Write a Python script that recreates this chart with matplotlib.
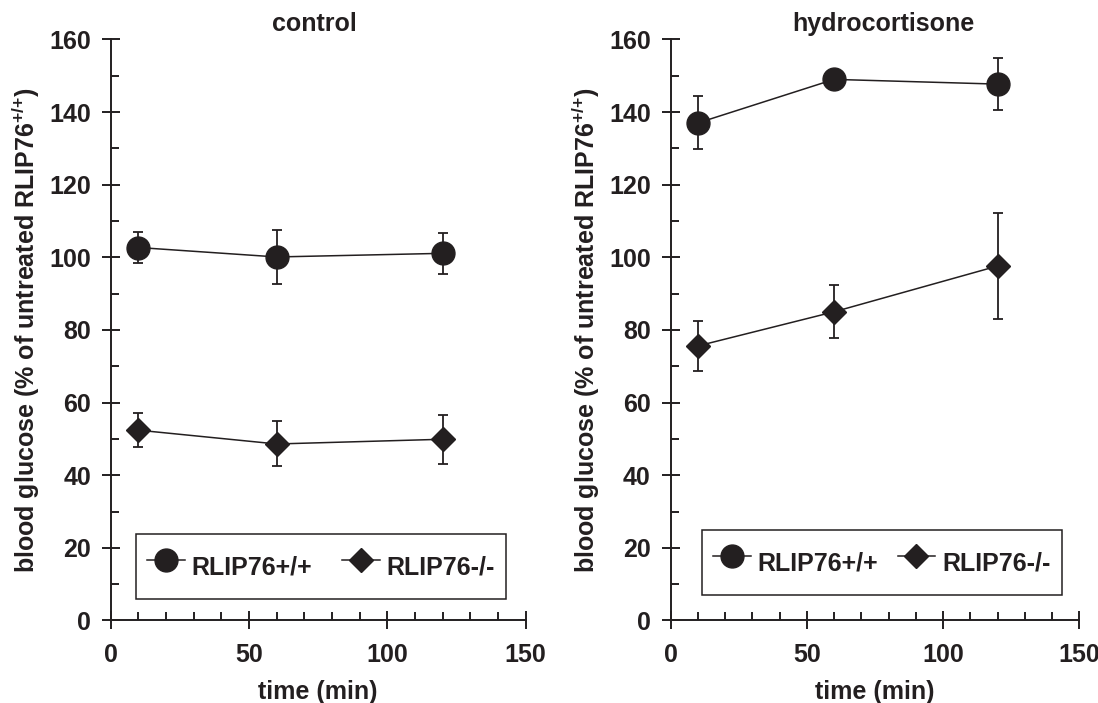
import matplotlib
matplotlib.use("Agg")
import matplotlib.pyplot as plt
from matplotlib.ticker import MultipleLocator

plt.rcParams['font.family'] = ['Liberation Sans', 'DejaVu Sans']
plt.rcParams['font.weight'] = 'bold'
plt.rcParams['mathtext.fontset'] = 'custom'
plt.rcParams['mathtext.rm'] = 'Liberation Sans:bold'
plt.rcParams['mathtext.bf'] = 'Liberation Sans:bold'
plt.rcParams['mathtext.default'] = 'bf'

# ---- data ----
time_min = [10, 60, 120]

control_wt = [102.7, 100.1, 101.1]
control_wt_err = [4.3, 7.5, 5.7]
control_ko = [52.4, 48.6, 49.9]
control_ko_err = [4.6, 6.2, 6.8]

hydro_wt = [137.0, 149.0, 147.7]
hydro_wt_err = [7.3, 1.5, 7.25]
hydro_ko = [75.6, 85.0, 97.6]
hydro_ko_err = [6.9, 7.35, 14.7]

panel_titles = ['control', 'hydrocortisone']
series_labels = ['RLIP76+/+', 'RLIP76-/-']
x_ticks = [0, 50, 100, 150]
y_ticks = [0, 20, 40, 60, 80, 100, 120, 140, 160]
x_label = 'time (min)'
y_label = 'blood glucose (% of untreated RLIP76$^{\\text{+/+}}$)'

C = '#231f20'
FS = 18

fig = plt.figure(figsize=(10.98, 7.03), dpi=100)
ax1 = fig.add_axes([0.1008, 0.1174, 0.378, 0.8265])
ax2 = fig.add_axes([0.6108, 0.1174, 0.3721, 0.8265])

panels = [
    (ax1, control_wt, control_wt_err, control_ko, control_ko_err, panel_titles[0], 0.49,
     (9.1, 5.8, 133.8, 19.4)),
    (ax2, hydro_wt, hydro_wt_err, hydro_ko, hydro_ko_err, panel_titles[1], 0.52,
     (11.5, 6.9, 132.0, 19.2)),
]

for ax, wt, wte, ko, koe, title, tx, lbox in panels:
    ax.errorbar(time_min, wt, yerr=wte, fmt='none', ecolor=C, elinewidth=1.3,
                capsize=3.8, capthick=1.3, zorder=2)
    ax.errorbar(time_min, ko, yerr=koe, fmt='none', ecolor=C, elinewidth=1.3,
                capsize=3.8, capthick=1.3, zorder=2)
    ax.plot(time_min, wt, '-', marker='o', ms=16.5, color=C, lw=1.1,
            label=series_labels[0], zorder=3)
    ax.plot(time_min, ko, '-', marker='D', ms=12.2, color=C, lw=1.1,
            label=series_labels[1], zorder=3)

    ax.set_xlim(0, 150)
    ax.set_ylim(0, 160)
    ax.set_xticks(x_ticks)
    ax.set_yticks(y_ticks)
    ax.xaxis.set_minor_locator(MultipleLocator(10))
    ax.yaxis.set_minor_locator(MultipleLocator(10))
    for s in ['top', 'right']:
        ax.spines[s].set_visible(False)
    for s in ['left', 'bottom']:
        ax.spines[s].set_linewidth(1.4)
        ax.spines[s].set_color(C)
    ax.tick_params(which='major', direction='inout', length=12.5, width=1.4,
                   color=C, labelsize=FS, labelcolor=C, pad=8)
    ax.tick_params(axis='x', which='major', pad=10)
    ax.tick_params(which='minor', direction='in', length=5.5, width=1.4, color=C)
    for lab in ax.get_xticklabels() + ax.get_yticklabels():
        lab.set_fontweight('bold')

    ax.set_xlabel(x_label, fontsize=FS, fontweight='bold', color=C, labelpad=9)
    ax.set_ylabel(y_label, fontsize=FS, fontweight='bold', color=C, labelpad=5)
    ax.set_title(title, fontsize=FS, fontweight='bold', color=C, pad=6.3, x=tx)

    leg = ax.legend(loc='lower left', bbox_to_anchor=lbox,
                    bbox_transform=ax.transData, mode='expand', ncol=2,
                    borderaxespad=0, borderpad=0.45, handleheight=2.25,
                    handlelength=1.5, handletextpad=0.27, columnspacing=1.2,
                    numpoints=1, fancybox=False, framealpha=1,
                    edgecolor=C, prop={'size': FS, 'weight': 'bold'})
    leg.get_frame().set_linewidth(1.1)
    for t in leg.get_texts():
        t.set_color(C)

fig.savefig('out.png', dpi=100)
